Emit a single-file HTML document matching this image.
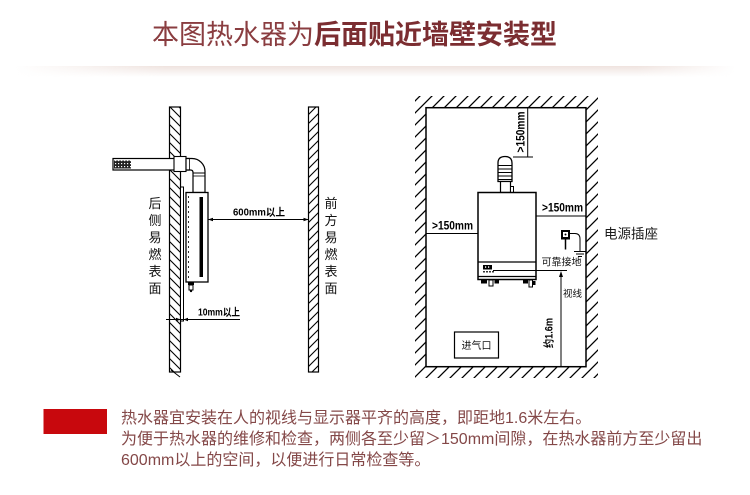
<!DOCTYPE html>
<html><head><meta charset="utf-8">
<style>
html,body{margin:0;padding:0;background:#fff;}
body{width:750px;height:495px;overflow:hidden;position:relative;}
.band{position:absolute;left:0;top:66px;width:750px;height:11px;background:linear-gradient(to bottom,#efe3df,rgba(255,255,255,0));-webkit-mask-image:linear-gradient(to right,transparent 2%,#000 22%,#000 85%,transparent 98%);mask-image:linear-gradient(to right,transparent 2%,#000 22%,#000 85%,transparent 98%);}
svg{position:absolute;left:0;top:0;}
</style></head><body>
<div class="band"></div>
<svg width="750" height="495" viewBox="0 0 750 495" xmlns="http://www.w3.org/2000/svg">
<defs>
<pattern id="hl" width="9" height="9" patternUnits="userSpaceOnUse"><path d="M-1,-1L10,10M-1,8L1,10M8,-1L10,1" stroke="#000" stroke-width="1.1"/></pattern>
<pattern id="hr" width="9" height="9" patternUnits="userSpaceOnUse"><path d="M-1,10L10,-1M-1,1L1,-1M8,10L10,8" stroke="#000" stroke-width="1.1"/></pattern>
<pattern id="hroom" width="12" height="12" patternUnits="userSpaceOnUse"><path d="M-1,13L13,-1M-1,1L1,-1M11,13L13,11" stroke="#000" stroke-width="1.3"/></pattern>
<pattern id="dots" width="3" height="3" patternUnits="userSpaceOnUse"><rect width="3" height="3" fill="#222"/><rect x="1" y="1" width="1.2" height="1.2" fill="#fff"/></pattern>
</defs>

<!-- Title -->
<text x="152" y="44" font-size="27" font-family="'Liberation Sans','Noto Sans CJK SC',sans-serif" fill="#8a3d40">本图热水器为<tspan font-weight="bold" fill="#7b2d31">后面贴近墙壁安装型</tspan></text>

<!-- LEFT DIAGRAM -->
<g font-family="'Liberation Sans','Noto Sans CJK SC',sans-serif">
<rect x="169.5" y="107" width="11" height="265" fill="url(#hl)" stroke="#000" stroke-width="1.2"/>
<line x1="171" y1="370" x2="180" y2="377" stroke="#000" stroke-width="1"/>
<rect x="308.5" y="107" width="10" height="265" fill="url(#hr)" stroke="#000" stroke-width="1.2"/>

<!-- pipe -->
<rect x="113" y="158.5" width="76" height="11.5" fill="#fff" stroke="#000" stroke-width="1.2"/>
<rect x="114" y="160.5" width="17" height="8" fill="url(#dots)"/>
<rect x="174" y="156.5" width="12" height="15" fill="#fff" stroke="#000" stroke-width="1.1"/>
<path d="M186,158.5 L192,158.5 A13,13 0 0 1 205,171.5 L205,192.5 L193,192.5 L193,172.5 Q193,170 190.5,170 L186,170 Z" fill="#fff" stroke="#000" stroke-width="1.2"/>
<line x1="189.5" y1="158.5" x2="189.5" y2="170" stroke="#000" stroke-width="0.8"/>
<line x1="193" y1="173" x2="205" y2="173" stroke="#000" stroke-width="1"/>
<line x1="193" y1="176" x2="205" y2="176" stroke="#000" stroke-width="0.8"/>

<!-- plate -->
<rect x="180.5" y="187" width="3" height="134" fill="#fff" stroke="#000" stroke-width="1"/>
<!-- heater -->
<rect x="186" y="192.5" width="22" height="89.5" fill="#fff" stroke="#000" stroke-width="1.3"/>
<line x1="188.5" y1="196" x2="188.5" y2="279" stroke="#000" stroke-width="0.8" stroke-dasharray="2 3"/>
<rect x="199.5" y="197" width="3.5" height="80" fill="#000"/>
<rect x="188" y="282" width="6" height="3" fill="#000"/>
<rect x="189" y="285" width="4" height="5" fill="#fff" stroke="#000" stroke-width="1"/>
<circle cx="191" cy="291" r="1.2" fill="#000"/>

<!-- 600mm -->
<line x1="208" y1="219.5" x2="308.5" y2="219.5" stroke="#000" stroke-width="1"/>
<polygon points="208,219.5 213,217.7 213,221.3" fill="#000"/>
<polygon points="308.5,219.5 303.5,217.7 303.5,221.3" fill="#000"/>
<text x="233" y="215.5" font-size="10.5" font-weight="bold" textLength="52" lengthAdjust="spacingAndGlyphs">600mm以上</text>

<!-- 10mm -->
<line x1="166" y1="319.5" x2="240" y2="319.5" stroke="#000" stroke-width="1"/>
<polygon points="180.5,319.5 176,317.7 176,321.3" fill="#000"/>
<polygon points="183.5,319.5 188,317.7 188,321.3" fill="#000"/>
<text x="198" y="315.5" font-size="10.5" font-weight="bold" textLength="42" lengthAdjust="spacingAndGlyphs">10mm以上</text>

<g font-size="13" text-anchor="middle" fill="#111">
<text x="155" y="208">后</text><text x="155" y="225">侧</text><text x="155" y="242">易</text>
<text x="155" y="259">燃</text><text x="155" y="276">表</text><text x="155" y="293">面</text>
<text x="331" y="208">前</text><text x="331" y="225">方</text><text x="331" y="242">易</text>
<text x="331" y="259">燃</text><text x="331" y="276">表</text><text x="331" y="293">面</text>
</g>
</g>

<!-- RIGHT DIAGRAM -->
<g font-family="'Liberation Sans','Noto Sans CJK SC',sans-serif">
<path d="M415,96 H598 V378 H415 Z M426,107.7 V366.7 H586 V107.7 Z" fill="url(#hroom)" fill-rule="evenodd"/>
<rect x="426" y="107.7" width="160" height="259" fill="none" stroke="#000" stroke-width="1.5"/>

<!-- top dim -->
<line x1="527.7" y1="107.7" x2="527.7" y2="157" stroke="#000" stroke-width="1"/>
<line x1="513" y1="157" x2="533" y2="157" stroke="#000" stroke-width="1"/>
<text transform="translate(524.5,132) rotate(-90)" text-anchor="middle" font-size="12" font-weight="bold" textLength="41" lengthAdjust="spacingAndGlyphs">&gt;150mm</text>

<!-- chimney -->
<path d="M498,181.5 V163 Q498,156.5 505,156.5 Q512,156.5 512,163 V181.5 Z" fill="#fff" stroke="#000" stroke-width="1.3"/>
<g stroke="#000" stroke-width="1">
<line x1="498" y1="165.5" x2="512" y2="165.5"/><line x1="498" y1="169" x2="512" y2="169"/>
<line x1="498" y1="172.5" x2="512" y2="172.5"/><line x1="498" y1="176" x2="512" y2="176"/>
<line x1="498" y1="179.5" x2="512" y2="179.5"/>
</g>
<rect x="500.5" y="181.5" width="10" height="11" fill="#fff" stroke="#000" stroke-width="1.2"/>
<rect x="510.5" y="186.5" width="3" height="6" fill="#fff" stroke="#000" stroke-width="1"/>

<!-- heater -->
<rect x="478" y="192.5" width="58" height="87" fill="#fff" stroke="#000" stroke-width="1.5"/>
<line x1="478" y1="262" x2="536" y2="262" stroke="#000" stroke-width="1.2"/>
<line x1="478" y1="276.5" x2="536" y2="276.5" stroke="#000" stroke-width="1.2"/>
<rect x="483" y="265" width="9" height="4.5" fill="#000"/>
<rect x="485" y="266.3" width="1.2" height="1.5" fill="#fff"/><rect x="488" y="266.3" width="1.2" height="1.5" fill="#fff"/>
<circle cx="484" cy="271.8" r="0.9" fill="#000"/><circle cx="487" cy="271.8" r="0.9" fill="#000"/>
<circle cx="490" cy="271.8" r="0.9" fill="#000"/><circle cx="493" cy="271.8" r="0.9" fill="#000"/>
<line x1="493" y1="270.5" x2="567" y2="270.5" stroke="#000" stroke-width="1"/>
<!-- fittings -->
<rect x="481" y="280" width="6" height="3.5" fill="#000"/>
<rect x="489" y="280" width="4" height="6" fill="#fff" stroke="#000" stroke-width="1"/>
<rect x="494.5" y="280" width="4.5" height="3.5" fill="#000"/>
<rect x="523" y="280" width="5" height="3.5" fill="#000"/>
<rect x="529" y="280" width="3.5" height="7" fill="#fff" stroke="#000" stroke-width="1"/>
<rect x="533" y="281" width="2.5" height="4" fill="#000"/>

<!-- side dims -->
<line x1="426" y1="233.5" x2="478" y2="233.5" stroke="#000" stroke-width="1"/>
<text x="432" y="229.3" font-size="12" font-weight="bold" textLength="41" lengthAdjust="spacingAndGlyphs">&gt;150mm</text>
<line x1="536" y1="216" x2="586" y2="216" stroke="#000" stroke-width="1"/>
<text x="542" y="211.5" font-size="12" font-weight="bold" textLength="41" lengthAdjust="spacingAndGlyphs">&gt;150mm</text>

<!-- outlet -->
<rect x="561" y="230" width="9" height="9.5" fill="#000"/>
<rect x="563" y="232" width="5" height="5" fill="#fff"/>
<circle cx="565.5" cy="234.5" r="1" fill="#000"/>
<line x1="565.5" y1="239.5" x2="565.5" y2="249.5" stroke="#000" stroke-width="1.5"/>
<path d="M570,233.5 H575 Q580,233.5 580,239 V251.5" fill="none" stroke="#000" stroke-width="1"/>
<g stroke="#000" stroke-width="1">
<line x1="574" y1="251.5" x2="586" y2="251.5"/><line x1="576" y1="254" x2="584" y2="254"/><line x1="578" y1="256.5" x2="582" y2="256.5"/>
</g>
<text x="541.5" y="265.3" font-size="10" textLength="40" lengthAdjust="spacingAndGlyphs" fill="#111">可靠接地</text>

<!-- sight arrow -->
<line x1="561" y1="273" x2="561" y2="366.7" stroke="#000" stroke-width="1"/>
<polygon points="561,271 559,277 563,277" fill="#000"/>
<text x="563" y="297" font-size="9.5" fill="#111">视线</text>
<text transform="translate(552.5,333) rotate(-90)" text-anchor="middle" font-size="11" font-weight="bold" textLength="30" lengthAdjust="spacingAndGlyphs">约1.6m</text>

<!-- inlet -->
<rect x="454.5" y="332" width="44" height="26" fill="#fff" stroke="#000" stroke-width="1.2"/>
<text x="476.5" y="349" text-anchor="middle" font-size="10" fill="#111">进气口</text>

<text x="604" y="238.5" font-size="13.5" fill="#1a1a1a">电源插座</text>
</g>

<!-- bottom notes -->
<rect x="43.5" y="409" width="63.5" height="25" fill="#c8080d"/>
<g font-family="'Liberation Sans','Noto Sans CJK SC',sans-serif" font-size="16" fill="#844848">
<text x="121" y="423">热水器宜安装在人的视线与显示器平齐的高度，即距地1.6米左右。</text>
<text x="121" y="444">为便于热水器的维修和检查，两侧各至少留＞150mm间隙，在热水器前方至少留出</text>
<text x="121" y="465">600mm以上的空间，以便进行日常检查等。</text>
</g>
</svg>
</body></html>
